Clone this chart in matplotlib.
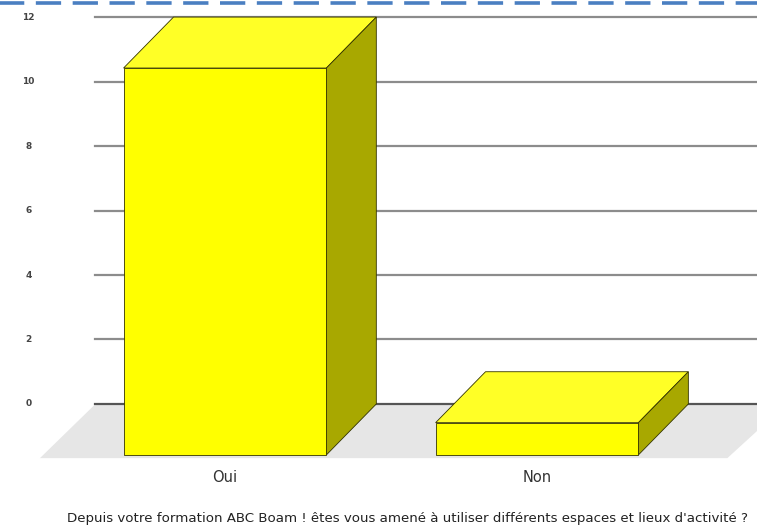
import matplotlib
matplotlib.use('Agg')
import matplotlib.pyplot as plt
from matplotlib.patches import Polygon

# Survey answers
categories = ['Oui', 'Non']
counts = [12, 1]
y_ticks = [0, 2, 4, 6, 8, 10, 12]
question = ("Depuis votre formation ABC Boam ! êtes vous amené à utiliser "
            "différents espaces et lieux d'activité ?")

# pseudo-3D look
BAR_W = 0.65      # in category units
DX = 0.16         # depth shift, category units
DY = 1.58         # depth shift, value units
FRONT = '#ffff00'
TOP = '#ffff26'
SIDE = '#a8a800'
EDGE = '#333300'

fig = plt.figure(figsize=(7.57, 5.31), dpi=100)
ax = fig.add_axes([0, 0, 1, 1])
ax.set_xlim(-0.721, 1.705)
ax.set_ylim(-3.94, 12.53)
ax.axis('off')

# floor
wall_left = -0.415
floor = Polygon([(wall_left - 0.178, -DY - 0.1), (wall_left, 0), (1.8, 0),
                 (1.61, -DY - 0.1)],
                closed=True, facecolor='#e6e6e6', edgecolor='none', zorder=1)
ax.add_patch(floor)

# grid lines on the back wall
for t in y_ticks:
    col = '#555555' if t == 0 else '#8c8c8c'
    ax.plot([wall_left, 1.8], [t, t], color=col, lw=1.6, zorder=2)
    ax.text(-0.63, t, str(t), fontsize=6.5, color='#444444', fontweight='bold',
            ha='center', va='center')

# bars
for i, (cat, v) in enumerate(zip(categories, counts)):
    x0 = i - BAR_W / 2
    x1 = i + BAR_W / 2
    yb = -DY
    yt = v - DY
    ax.bar(i, v, width=BAR_W, bottom=yb, color=FRONT, edgecolor=EDGE, lw=0.6, zorder=4)
    top = Polygon([(x0, yt), (x1, yt), (x1 + DX, v), (x0 + DX, v)], closed=True,
                  facecolor=TOP, edgecolor=EDGE, lw=0.6, zorder=3)
    side = Polygon([(x1, yb), (x1 + DX, 0), (x1 + DX, v), (x1, yt)], closed=True,
                   facecolor=SIDE, edgecolor=EDGE, lw=0.6, zorder=3)
    ax.add_patch(top)
    ax.add_patch(side)
    ax.text(i, -2.28, cat, fontsize=10.5, color='#333333', ha='center', va='center')

ax.text(0.585, -3.56, question, fontsize=9.6, color='#222222', ha='center', va='center')

# dashed border at top
ax.plot([-0.8, 1.8], [12.44, 12.44], color='#4a7fc1', lw=2.6, dashes=(7, 3.2),
        clip_on=False, zorder=6)

fig.savefig('out.png', dpi=100)
